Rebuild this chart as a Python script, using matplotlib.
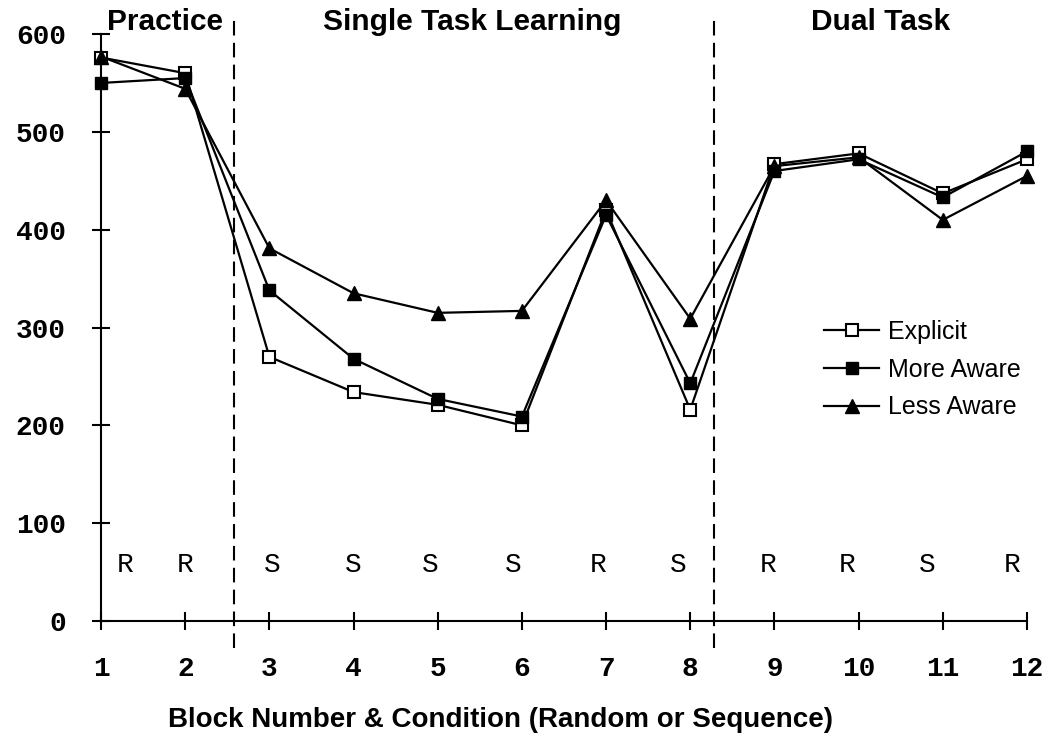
import matplotlib
matplotlib.use("Agg")
import matplotlib.pyplot as plt

blocks = list(range(1, 13))
conditions = ["R", "R", "S", "S", "S", "S", "R", "S", "R", "R", "S", "R"]
explicit = [576, 560, 270, 234, 221, 200, 420, 216, 467, 478, 437, 472]
more_aware = [550, 555, 338, 268, 227, 209, 415, 243, 460, 472, 433, 480]
less_aware = [577, 544, 381, 335, 315, 317, 430, 309, 465, 474, 410, 455]
phases = [("Practice", 1.76), ("Single Task Learning", 5.41), ("Dual Task", 10.26)]
phase_breaks = [2.58, 8.28]

# small horizontal nudges of the R/S letters relative to their tick
cond_nudge = [0.28, 0, 0.03, 0, -0.09, -0.1, -0.1, -0.14, -0.08, -0.14, -0.18, -0.18]

MONO = "Liberation Mono"
SANS = "Liberation Sans"

fig = plt.figure(figsize=(10.46, 7.4), dpi=100)
ax = fig.add_axes([0.0966, 0.1608, 0.8852, 0.7932])

ax.plot(blocks, explicit, "-s", color="black", lw=1.6, ms=9,
        mfc="white", mec="black", mew=1.5, label="Explicit", clip_on=False, zorder=3)
ax.plot(blocks, more_aware, "-s", color="black", lw=1.6, ms=9,
        mfc="black", label="More Aware", clip_on=False, zorder=3)
ax.plot(blocks, less_aware, "-^", color="black", lw=1.6, ms=10.5,
        mfc="black", label="Less Aware", clip_on=False, zorder=3)

for xb in phase_breaks:
    ax.plot([xb, xb], [-28, 616], color="black", lw=1.5,
            dashes=(7, 3.5), clip_on=False)

for name, xc in phases:
    ax.text(xc, 612, name, ha="center", va="center", fontsize=21.5,
            fontweight="bold", family=SANS)

for b, c, dx in zip(blocks, conditions, cond_nudge):
    ax.text(b + dx, 57, c, ha="center", va="center", fontsize=20, family=MONO)

ax.set_xlim(1, 12)
ax.set_ylim(0, 600)
ax.set_xticks(blocks)
ax.set_yticks(range(0, 601, 100))
ax.tick_params(direction="inout", length=13, width=1.5)
ax.tick_params(axis="x", pad=19)
ax.tick_params(axis="y", pad=19)
ax.set_xticklabels([str(b) for b in blocks], family=MONO, fontweight="bold", fontsize=20)
ax.set_yticklabels([str(v) for v in range(0, 601, 100)], family=MONO,
                   fontweight="bold", fontsize=20)
for s in ["top", "right"]:
    ax.spines[s].set_visible(False)
for s in ["left", "bottom"]:
    ax.spines[s].set_linewidth(1.5)

ax.set_xlabel("Block Number & Condition (Random or Sequence)", family=SANS,
              fontweight="bold", fontsize=20)
ax.xaxis.set_label_coords(0.431, -0.146)

ax.legend(loc="upper left", bbox_to_anchor=(0.781, 0.513), frameon=False,
          borderpad=0, borderaxespad=0,
          prop={"family": SANS, "size": 18}, handlelength=2.2,
          handletextpad=0.35, labelspacing=0.55)

fig.savefig("out.png", dpi=100)
